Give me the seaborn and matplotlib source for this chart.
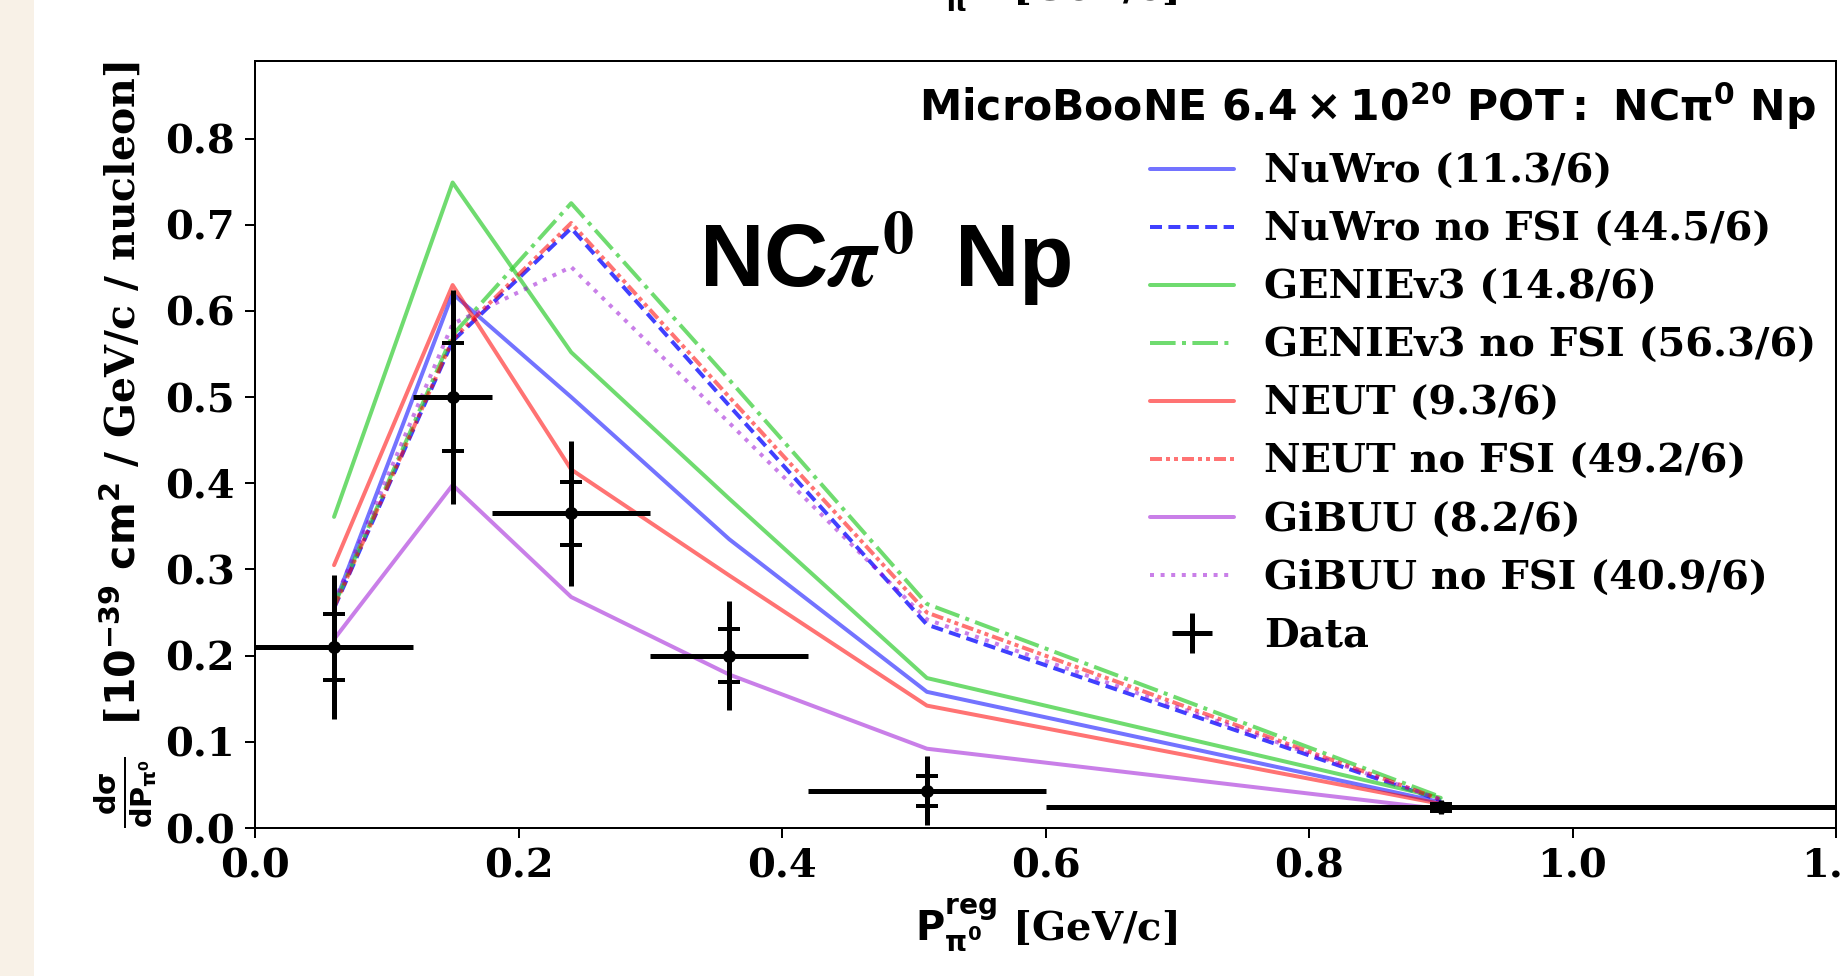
import numpy as np
import pandas as pd
import matplotlib
matplotlib.use("Agg")
import matplotlib.pyplot as plt
from matplotlib.patches import Rectangle
import seaborn as sns

# Reconstructed pi0 momentum bins [GeV/c]
p_centers = [0.06, 0.15, 0.24, 0.36, 0.51, 0.90]
p_halfwidth = [0.06, 0.03, 0.06, 0.06, 0.09, 0.30]

# Measured cross section [1e-39 cm^2 / GeV/c / nucleon]
data_xsec = [0.210, 0.500, 0.365, 0.200, 0.043, 0.024]
data_stat = [0.038, 0.063, 0.037, 0.031, 0.017, 0.004]
data_total = [0.084, 0.124, 0.084, 0.063, 0.040, 0.008]

# Generator predictions
nuwro = [0.258, 0.620, 0.500, 0.335, 0.158, 0.030]
nuwro_nofsi = [0.255, 0.565, 0.696, 0.490, 0.236, 0.032]
genie = [0.361, 0.749, 0.552, 0.382, 0.174, 0.035]
genie_nofsi = [0.258, 0.572, 0.725, 0.520, 0.260, 0.036]
neut = [0.305, 0.630, 0.416, 0.293, 0.142, 0.028]
neut_nofsi = [0.256, 0.567, 0.702, 0.500, 0.250, 0.033]
gibuu = [0.219, 0.398, 0.268, 0.178, 0.092, 0.022]
gibuu_nofsi = [0.262, 0.585, 0.651, 0.470, 0.242, 0.033]

model_labels = ["NuWro (11.3/6)", "NuWro no FSI (44.5/6)",
                "GENIEv3 (14.8/6)", "GENIEv3 no FSI (56.3/6)",
                "NEUT (9.3/6)", "NEUT no FSI (49.2/6)",
                "GiBUU (8.2/6)", "GiBUU no FSI (40.9/6)"]
model_values = [nuwro, nuwro_nofsi, genie, genie_nofsi,
                neut, neut_nofsi, gibuu, gibuu_nofsi]
model_styles = [("blue", 0.55, "-"), ("blue", 0.75, (0, (3.0, 1.6))),
                ("limegreen", 0.7, "-"), ("limegreen", 0.7, (0, (6.4, 1.6, 1.0, 1.6))),
                ("red", 0.55, "-"), ("red", 0.55, (0, (3.0, 1.0, 1.0, 1.0, 1.0, 1.0))),
                ("darkviolet", 0.5, "-"), ("darkviolet", 0.5, (0, (1.0, 1.65)))]

DPI = 72
sns.set_theme(style="ticks")
plt.rcParams.update({
    "font.family": ["DejaVu Serif"],
    "font.weight": "bold",
    "text.color": "black",
    "axes.labelcolor": "black",
    "axes.labelweight": "bold",
    "mathtext.fontset": "dejavusans",
    "axes.linewidth": 2.0,
    "axes.edgecolor": "black",
    "xtick.major.size": 10, "ytick.major.size": 10,
    "xtick.major.width": 2, "ytick.major.width": 2,
    "xtick.color": "black", "ytick.color": "black",
    "xtick.labelsize": 40, "ytick.labelsize": 40,
    "xtick.major.pad": 10, "ytick.major.pad": 10,
})

fig = plt.figure(figsize=(1845 / DPI, 976 / DPI), dpi=DPI)
fig.patches.append(Rectangle((0, 0), 34 / 1845, 1, transform=fig.transFigure,
                             facecolor="#f8f1e7", edgecolor="none", zorder=-5))
ax = fig.add_axes([255 / 1845, 1 - 828 / 976, (1836 - 255) / 1845, (828 - 61) / 976])

for vals, lab, (col, al, ls) in zip(model_values, model_labels, model_styles):
    df = pd.DataFrame({"p": p_centers, "xsec": vals})
    sns.lineplot(data=df, x="p", y="xsec", ax=ax, color=col, alpha=al,
                 linestyle=ls, linewidth=4, label=lab, zorder=2)

# data: total uncertainty, statistical caps, central values
ax.errorbar(p_centers, data_xsec, xerr=p_halfwidth, yerr=data_total, fmt="none",
            ecolor="black", elinewidth=5, capsize=0, label="Data", zorder=4)
ax.errorbar(p_centers, data_xsec, yerr=data_stat, fmt="none", ecolor="black",
            elinewidth=5, capsize=11, capthick=4, zorder=4)
sns.scatterplot(x=p_centers, y=data_xsec, ax=ax, color="black", s=170,
                edgecolor="black", linewidth=0, zorder=5, legend=False)

ax.set_xlim(0, 1.2)
ax.set_ylim(0, 0.89)
ax.set_xticks([0.0, 0.2, 0.4, 0.6, 0.8, 1.0, 1.2])
ax.set_yticks([0.0, 0.1, 0.2, 0.3, 0.4, 0.5, 0.6, 0.7, 0.8])
ax.xaxis.set_major_formatter(matplotlib.ticker.FormatStrFormatter("%.1f"))
ax.yaxis.set_major_formatter(matplotlib.ticker.FormatStrFormatter("%.1f"))
ax.tick_params(top=False, right=False)
for lbl in ax.get_xticklabels() + ax.get_yticklabels():
    lbl.set_fontweight("bold")

xlabel = r"$\mathbf{P^{reg}_{\pi^0}}$ [GeV/c]"
ax.set_xlabel(xlabel, fontsize=40, labelpad=10)
ax.set_ylabel(r"$\mathbf{\frac{d\sigma}{dP_{\pi^0}}}$  [$\mathbf{10^{-39}\ cm^2}$ / GeV/c / nucleon]",
              fontsize=41, labelpad=6)

# axis label of the panel above, cut by the top edge
fig.text((255 + 1836) / 2 / 1845, 1 - 13 / 976, xlabel, fontsize=40,
         ha="center", va="bottom", fontweight="bold")

ax.text(0.337, 0.628, r"NC$\pi^0\,$ Np", fontsize=89, fontweight="bold",
        family="Liberation Sans", math_fontfamily="stix", color="black",
        ha="left", va="baseline", zorder=6)

leg = ax.legend(loc="upper right", bbox_to_anchor=(1.0, 1.0), frameon=False,
                fontsize=40, title=r"$\mathbf{MicroBooNE\ 6.4\times10^{20}\ POT:\ NC\pi^0\ Np}$",
                title_fontsize=42.5, handlelength=2.1, handletextpad=0.75,
                labelspacing=0.5, borderaxespad=0.2, borderpad=0.3,
                alignment="right")
for t in leg.get_texts():
    t.set_fontweight("bold")

fig.savefig("out.png", dpi=DPI)
